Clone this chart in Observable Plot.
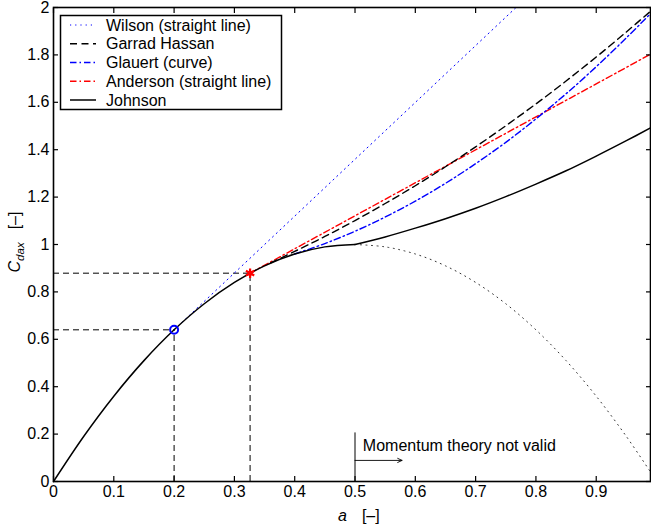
<!DOCTYPE html>
<html><head><meta charset="utf-8">
<script src="https://cdn.jsdelivr.net/npm/d3@7"></script>
<script src="https://cdn.jsdelivr.net/npm/@observablehq/plot@0.6"></script>
<style>
html,body{margin:0;padding:0;background:#fff;}
#chart{width:651px;height:526px;}
</style></head><body><div id="chart"></div>
<script>
// ---- data ----
const xTicks = [0, 0.1, 0.2, 0.3, 0.4, 0.5, 0.6, 0.7, 0.8, 0.9];
const yTicks = [0, 0.2, 0.4, 0.6, 0.8, 1, 1.2, 1.4, 1.6, 1.8, 2];

const johnsonLow = [[0,0],[0.05,0.19],[0.1,0.36],[0.15,0.51],[0.2,0.64],[0.25,0.75],[0.3,0.84],[0.35,0.91],[0.4,0.96],[0.45,0.99],[0.5,1.0]];
const johnsonHigh = [[0.5,1.0],[0.55,1.032],[0.6,1.069],[0.65,1.109],[0.7,1.153],[0.75,1.202],[0.8,1.255],[0.85,1.311],[0.9,1.373],[0.95,1.438],[0.99,1.492]];
const momentum = [[0.5,1.0],[0.55,0.99],[0.6,0.96],[0.65,0.91],[0.7,0.84],[0.75,0.75],[0.8,0.64],[0.85,0.51],[0.9,0.36],[0.95,0.19],[0.99,0.04]];
const wilson = [[0.2,0.64],[0.767,2.0]];
const anderson = [[0.326,0.879],[0.99,1.803]];
const glauert = [[0.4,0.96],[0.45,1.004],[0.5,1.056],[0.55,1.116],[0.6,1.183],[0.65,1.258],[0.7,1.341],[0.75,1.431],[0.8,1.530],[0.85,1.636],[0.9,1.750],[0.95,1.872],[0.99,1.974]];
const garradHassan = [[0.36,0.922],[0.4,0.971],[0.45,1.034],[0.5,1.101],[0.55,1.173],[0.6,1.248],[0.65,1.328],[0.7,1.412],[0.75,1.501],[0.8,1.593],[0.85,1.690],[0.9,1.791],[0.95,1.897],[0.99,1.984]];
const circlePoint = [[0.2,0.64]];
const starPoint = [[0.326,0.879]];
const guidePoints = [[0.2,0.64],[0.326,0.879]];
const validLimit = [[0.5, 0.205]];
const arrowSpan = [[0.5, 0.578, 0.089]];
const noteText = [[0.513, 0.152, "Momentum theory not valid"]];
const legendLabels = ["Wilson (straight line)", "Garrad Hassan", "Glauert (curve)", "Anderson (straight line)", "Johnson"];

// ---- styles ----
const styles = [
  {stroke: "#0000ff", dash: "1.2,4", width: 1},
  {stroke: "#000000", dash: "7,4.5", width: 1.4},
  {stroke: "#0000ff", dash: "6.5,3,1.5,3", width: 1.4},
  {stroke: "#ff0000", dash: "6.5,3,1.5,3", width: 1.4},
  {stroke: "#000000", dash: null, width: 1.5}
];
const FONT = "'Liberation Sans', Arial, Helvetica, sans-serif";
const FS = 16;

const px = d => d[0], py = d => d[1];

const plot = Plot.plot({
  width: 651, height: 526,
  marginLeft: 53, marginRight: 1, marginTop: 7, marginBottom: 45,
  style: {fontFamily: FONT, fontSize: FS + "px", background: "#fff", color: "#000", overflow: "visible"},
  x: {domain: [0, 0.99]},
  y: {domain: [0, 2]},
  marks: [
    // guide dashed lines
    Plot.ruleY(guidePoints, {y: py, x1: () => 0, x2: px, stroke: "#000", strokeWidth: 1, strokeDasharray: "6,4"}),
    Plot.ruleX(guidePoints, {x: px, y1: () => 0, y2: py, stroke: "#000", strokeWidth: 1, strokeDasharray: "6,4"}),
    // momentum theory (dotted continuation)
    Plot.line(momentum, {x: px, y: py, stroke: "#333", strokeWidth: 1, strokeDasharray: "1,4.5", curve: "catmull-rom"}),
    // models
    Plot.line(wilson, {x: px, y: py, stroke: styles[0].stroke, strokeWidth: styles[0].width, strokeDasharray: styles[0].dash, clip: true}),
    Plot.line(anderson, {x: px, y: py, stroke: styles[3].stroke, strokeWidth: styles[3].width, strokeDasharray: styles[3].dash}),
    Plot.line(glauert, {x: px, y: py, stroke: styles[2].stroke, strokeWidth: styles[2].width, strokeDasharray: styles[2].dash, curve: "catmull-rom"}),
    Plot.line(garradHassan, {x: px, y: py, stroke: styles[1].stroke, strokeWidth: styles[1].width, strokeDasharray: styles[1].dash, curve: "catmull-rom"}),
    Plot.line(johnsonLow, {x: px, y: py, stroke: "#000", strokeWidth: 1.5, curve: "catmull-rom"}),
    Plot.line(johnsonHigh, {x: px, y: py, stroke: "#000", strokeWidth: 1.5, curve: "catmull-rom"}),
    // markers
    Plot.dot(circlePoint, {x: px, y: py, r: 4, stroke: "#0000ff", strokeWidth: 2, fill: "none"}),
    Plot.dot(starPoint, {x: px, y: py, r: 4.5, symbol: "asterisk", stroke: "#ff0000", strokeWidth: 2.2}),
    Plot.dot(starPoint, {x: px, y: py, r: 2.5, fill: "#ff0000"}),
    // momentum validity annotation
    Plot.ruleX(validLimit, {x: px, y1: () => 0, y2: py, stroke: "#000", strokeWidth: 1}),
    Plot.arrow(arrowSpan, {x1: d => d[0], x2: d => d[1], y1: d => d[2], y2: d => d[2], stroke: "#000", strokeWidth: 0.9, headLength: 8, headAngle: 50}),
    Plot.text(noteText, {x: d => d[0], y: d => d[1], text: d => d[2], textAnchor: "start", lineAnchor: "middle", fontSize: FS, fill: "#000"}),
    // axes (MATLAB style: inward ticks on all sides)
    Plot.axisX(xTicks, {anchor: "bottom", tickSize: 0, tickPadding: 4, tickFormat: d => String(d), label: null, fontSize: FS}),
    Plot.axisX(xTicks, {anchor: "bottom", tickSize: -5, fill: "none", label: null, strokeWidth: 1.2}),
    Plot.axisX(xTicks, {anchor: "top", tickSize: -5, fill: "none", label: null, strokeWidth: 1.2}),
    Plot.axisY(yTicks, {anchor: "left", tickSize: 0, tickPadding: 4, tickFormat: d => String(d), label: null, fontSize: FS}),
    Plot.axisY(yTicks, {anchor: "left", tickSize: -5, fill: "none", label: null, strokeWidth: 1.2}),
    Plot.axisY(yTicks, {anchor: "right", tickSize: -5, fill: "none", label: null, strokeWidth: 1.2}),
    Plot.frame({stroke: "#000", strokeWidth: 1.6})
  ]
});

const svg = d3.select(plot);
// axis titles
const xl = svg.append("text").attr("x", 338).attr("y", 521).attr("text-anchor", "start")
  .attr("font-family", FONT).attr("font-size", FS).attr("fill", "#000");
xl.append("tspan").attr("font-style", "italic").text("a");
xl.append("tspan").attr("dx", 15).text("[–]");

const yl = svg.append("text").attr("transform", "translate(20,242) rotate(-90)").attr("text-anchor", "middle")
  .attr("font-family", FONT).attr("font-size", FS).attr("fill", "#000");
yl.append("tspan").attr("font-style", "italic").text("C");
yl.append("tspan").attr("font-style", "italic").attr("font-size", 11.5).attr("dy", 4).text("dax");
yl.append("tspan").attr("dy", -4).attr("dx", 13).text("[–]");

// legend box
const lg = svg.append("g").attr("font-family", FONT).attr("font-size", FS).attr("text-anchor", "start");
lg.append("rect").attr("x", 60.5).attr("y", 15.5).attr("width", 221).attr("height", 94)
  .attr("fill", "#fff").attr("stroke", "#000").attr("stroke-width", 1.5);
legendLabels.forEach((lab, i) => {
  const y = 25 + i * 18.75;
  const s = styles[i];
  const ln = lg.append("line").attr("x1", 70).attr("x2", 96).attr("y1", y).attr("y2", y)
    .attr("stroke", s.stroke).attr("stroke-width", s.width);
  if (s.dash) ln.attr("stroke-dasharray", s.dash);
  lg.append("text").attr("x", 106).attr("y", y).attr("dy", "0.35em").attr("text-anchor", "start").attr("fill", "#000").text(lab);
});

document.getElementById("chart").appendChild(plot);
</script>
</body></html>
